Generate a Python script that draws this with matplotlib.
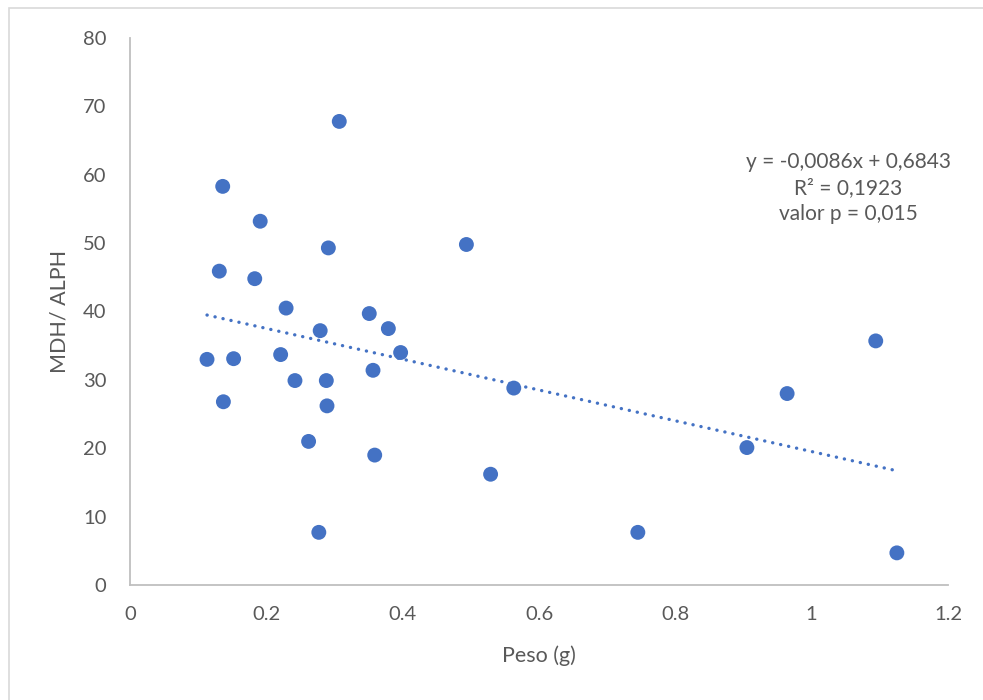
import numpy as np
import matplotlib
matplotlib.use("Agg")
import matplotlib.pyplot as plt
from matplotlib.patches import Rectangle

# Data
peso = [0.307, 0.136, 0.191, 0.291, 0.4935, 0.131, 0.183, 0.229, 0.351, 0.279,
        0.379, 0.113, 0.152, 0.221, 0.397, 0.3565, 0.242, 0.288, 0.137, 0.289,
        0.563, 0.262, 0.359, 0.529, 0.277, 1.094, 0.964, 0.905, 0.745, 1.125]
mdh_alph = [67.8, 58.3, 53.2, 49.3, 49.8, 45.9, 44.8, 40.5, 39.7, 37.2,
            37.5, 33.0, 33.1, 33.7, 34.0, 31.4, 29.9, 29.9, 26.8, 26.2,
            28.8, 21.0, 19.0, 16.2, 7.7, 35.7, 28.0, 20.1, 7.7, 4.7]

x_ticks = [0, 0.2, 0.4, 0.6, 0.8, 1.0, 1.2]
x_tick_labels = ["0", "0.2", "0.4", "0.6", "0.8", "1", "1.2"]
y_ticks = [0, 10, 20, 30, 40, 50, 60, 70, 80]
y_tick_labels = ["0", "10", "20", "30", "40", "50", "60", "70", "80"]

annot_lines = ["y = -0,0086x + 0,6843", "R² = 0,1923", "valor p = 0,015"]

plt.rcParams['font.family'] = ['Lato', 'DejaVu Sans']

W, H = 983, 700
fig = plt.figure(figsize=(W / 100, H / 100), dpi=100)
fig.patch.set_facecolor("white")

# chart-area border
fig.add_artist(Rectangle((9 / W, -0.05), 1.2, (H - 8) / H + 0.05,
                         transform=fig.transFigure, fill=False,
                         edgecolor="#d9d9d9", linewidth=1.2))

ax = fig.add_axes([130 / W, 1 - 585 / H, (948 - 130) / W, (585 - 38) / H])
blue = "#4472C4"
grey = "#595959"

ax.scatter(peso, mdh_alph, s=115, color=blue, edgecolors="none", zorder=3)

# linear trend line across data range
coef = np.polyfit(peso, mdh_alph, 1)
xs = np.array([min(peso), max(peso)])
ax.plot(xs, np.polyval(coef, xs), color=blue, linewidth=2.4,
        linestyle=(0, (0.05, 2.4)), dash_capstyle="round", zorder=2)

ax.set_xlim(0, 1.2)
ax.set_ylim(0, 80)
ax.set_xticks(x_ticks)
ax.set_xticklabels(x_tick_labels)
ax.set_yticks(y_ticks)
ax.set_yticklabels(y_tick_labels)
ax.tick_params(axis="both", length=0, labelsize=14.5, colors=grey)
ax.tick_params(axis="x", pad=15)
ax.tick_params(axis="y", pad=17)

for s in ["top", "right"]:
    ax.spines[s].set_visible(False)
for s in ["left", "bottom"]:
    ax.spines[s].set_color("#bfbfbf")
    ax.spines[s].set_linewidth(1.3)

ax.set_xlabel("Peso (g)", fontsize=15.5, color=grey, labelpad=16)
ax.set_ylabel("MDH/ ALPH", fontsize=15.5, color=grey, labelpad=10)

for i, line in enumerate(annot_lines):
    fig.text(848 / W, 1 - (162 + 26 * i) / H, line, ha="center", va="center",
             fontsize=15, color=grey)

fig.savefig("out.png", dpi=100, facecolor="white")
